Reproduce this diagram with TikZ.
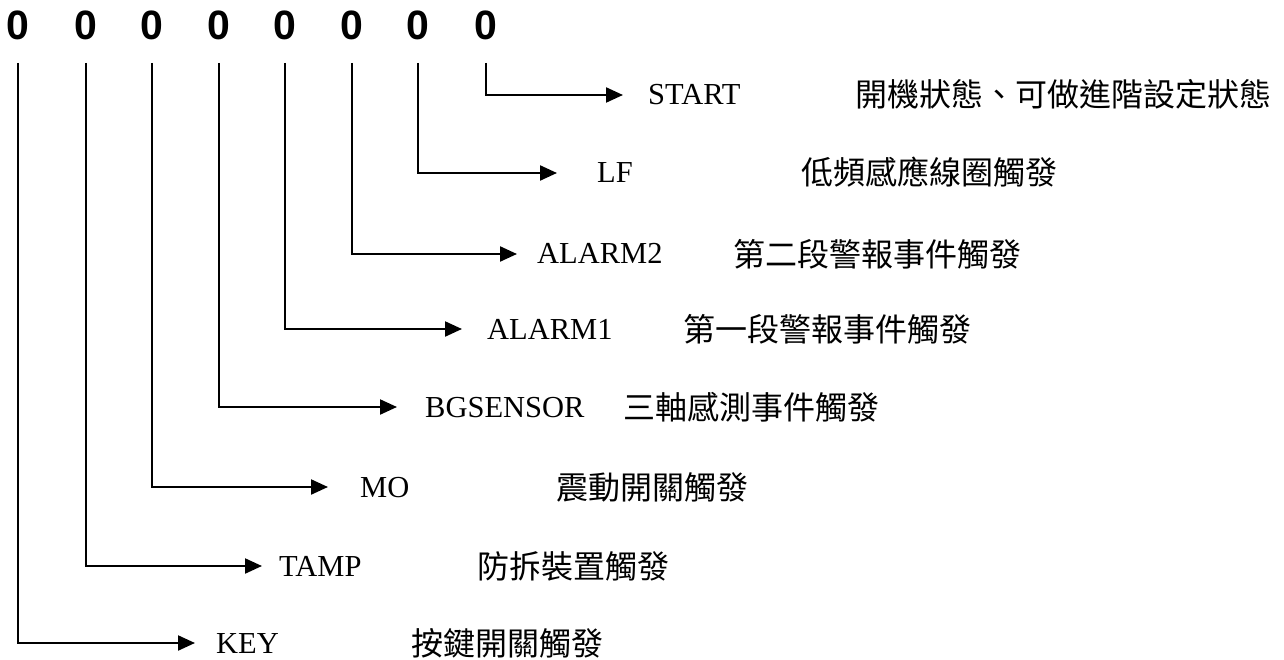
\documentclass[tikz,border=0pt]{standalone}
\usepackage{fontspec}
\setmainfont{Liberation Serif}
\newfontfamily\digitfont{Liberation Sans}
\newfontfamily\cjk{Noto Sans CJK TC}
\usetikzlibrary{arrows.meta}
\begin{document}
\begin{tikzpicture}[x=1pt,y=-1pt,
  bit/.style={inner sep=0pt,anchor=base,font=\digitfont\fontsize{41}{41}\selectfont\bfseries},
  lab/.style={inner sep=0pt,anchor=base west,font=\fontsize{30.5}{36}\selectfont},
  desc/.style={inner sep=0pt,anchor=base west,font=\cjk\fontsize{32}{38}\selectfont},
  conn/.style={line width=2.2pt,-{Triangle[length=17pt,width=15pt]},shorten <=23pt}]
\useasboundingbox (0,0) rectangle (1284,660);
% bits
\node[bit] (d0) at (18,40) {0};
\node[bit] (d1) at (86,40) {0};
\node[bit] (d2) at (152,40) {0};
\node[bit] (d3) at (219,40) {0};
\node[bit] (d4) at (285,40) {0};
\node[bit] (d5) at (352,40) {0};
\node[bit] (d6) at (418,40) {0};
\node[bit] (d7) at (486,40) {0};
% labels
\node[lab] (l7) at (648,105) {START};
\node[lab] (l6) at (597,183) {LF};
\node[lab] (l5) at (537,264) {ALARM2};
\node[lab] (l4) at (487,339) {ALARM1};
\node[lab] (l3) at (425,417) {BGSENSOR};
\node[lab] (l2) at (360,497) {MO};
\node[lab] (l1) at (279,576) {TAMP};
\node[lab] (l0) at (216,653) {KEY};
% descriptions
\node[desc] (e7) at (855,107) {開機狀態、可做進階設定狀態};
\node[desc] (e6) at (801,185) {低頻感應線圈觸發};
\node[desc] (e5) at (733,266) {第二段警報事件觸發};
\node[desc] (e4) at (683,341) {第一段警報事件觸發};
\node[desc] (e3) at (623,419) {三軸感測事件觸發};
\node[desc] (e2) at (556,499) {震動開關觸發};
\node[desc] (e1) at (477,578) {防拆裝置觸發};
\node[desc] (e0) at (411,655) {按鍵開關觸發};
% arrow tips
\coordinate (t7) at (623,95);
\coordinate (t6) at (557,173);
\coordinate (t5) at (517,254);
\coordinate (t4) at (462,329);
\coordinate (t3) at (397,407);
\coordinate (t2) at (328,487);
\coordinate (t1) at (262,566);
\coordinate (t0) at (195,643);
\foreach \i in {0,...,7}{\draw[conn] (d\i.base) |- (t\i);}
\end{tikzpicture}
\end{document}
